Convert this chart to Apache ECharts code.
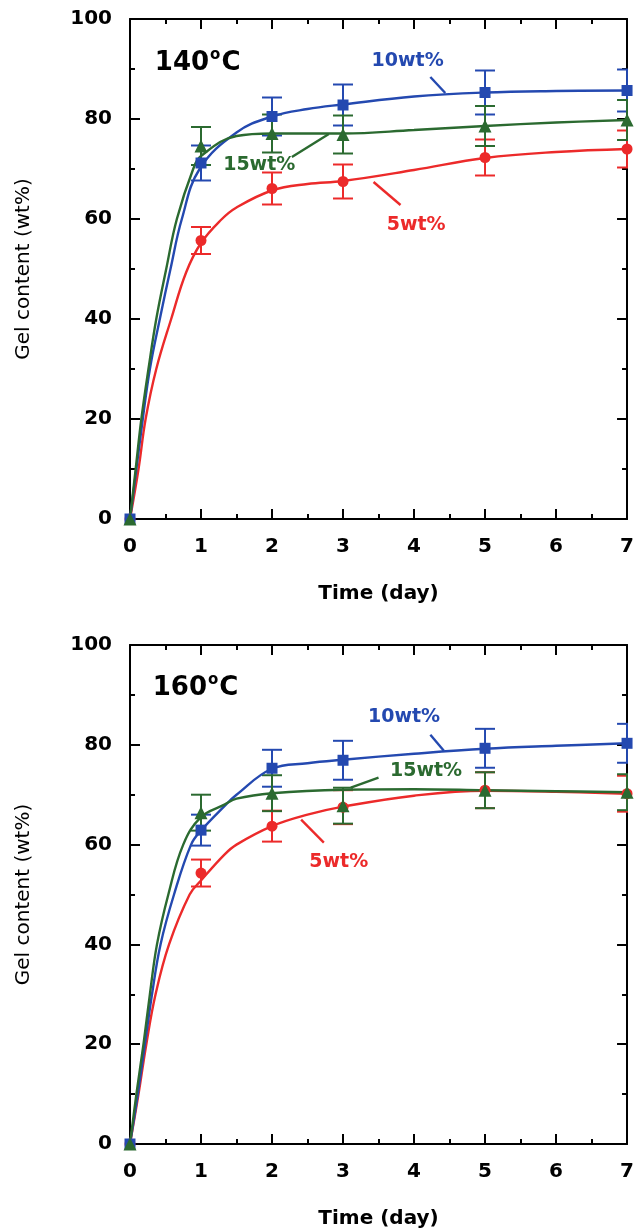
<!DOCTYPE html>
<html>
<head>
<meta charset="utf-8">
<script src="https://cdn.jsdelivr.net/npm/echarts@6/dist/echarts.min.js"></script>
<style>html,body{margin:0;padding:0;background:#fff}#c{width:637px;height:1230px}</style>
</head>
<body>
<div id="c"></div>
<script>
// ---------- data ----------
const days = [0, 1, 2, 3, 5, 7];
const xTicks = [0, 1, 2, 3, 4, 5, 6, 7];
const yTicks = [0, 20, 40, 60, 80, 100];

// 140 °C
const gel5_140  = [0, 55.7, 66.1, 67.5, 72.3, 74.0];
const err5_140  = [0, 2.7, 3.2, 3.4, 3.6, 3.7];
const gel10_140 = [0, 71.2, 80.5, 82.8, 85.3, 85.7];
const err10_140 = [0, 3.5, 3.8, 4.1, 4.4, 4.2];
const gel15_140 = [0, 74.6, 77.1, 76.9, 78.6, 79.8];
const err15_140 = [0, 3.8, 3.8, 3.8, 4.0, 4.0];

// 160 °C
const gel5_160  = [0, 54.3, 63.7, 67.5, 70.9, 70.2];
const err5_160  = [0, 2.7, 3.1, 3.4, 3.6, 3.6];
const gel10_160 = [0, 62.9, 75.3, 76.9, 79.3, 80.3];
const err10_160 = [0, 3.1, 3.7, 3.9, 3.9, 3.9];
const gel15_160 = [0, 66.4, 70.3, 67.8, 70.9, 70.5];
const err15_160 = [0, 3.6, 3.6, 3.6, 3.6, 3.6];

// fitted curves: [day, gel content]
const fit5_140  = [[0,0],[0.12,10],[0.22,20],[0.37,30],[0.58,40],[0.79,49.3],[1,55.2],[1.28,59.8],[1.5,62.3],[2,65.7],[2.5,67],[3,67.6],[4,69.8],[5,72.2],[6,73.4],[7,74]];
const fit10_140 = [[0,0],[0.09,10],[0.18,20],[0.28,30],[0.42,40],[0.57,50],[0.73,60],[0.98,70],[1.5,77.3],[2,80.5],[2.5,82],[3,82.9],[4,84.5],[5,85.3],[6,85.6],[7,85.7]];
const fit15_140 = [[0,0],[0.08,10],[0.16,20],[0.26,30],[0.37,40],[0.51,50],[0.66,60],[0.89,70],[1,72.6],[1.5,76.6],[2,77.1],[3,77.1],[4,77.8],[5,78.6],[6,79.3],[7,79.8]];
const fit5_160  = [[0,0],[0.12,10],[0.23,20],[0.36,30],[0.55,40],[0.84,50],[1,52.8],[1.33,58],[1.5,60],[2,63.7],[2.5,66],[3,67.6],[4,69.8],[5,70.8],[6,70.6],[7,70.2]];
const fit10_160 = [[0,0],[0.11,10],[0.21,20],[0.31,30],[0.43,40],[0.62,50],[0.86,60],[1,62.8],[1.33,67.7],[1.5,70],[2,75.2],[2.5,76.3],[3,77],[4,78.2],[5,79.2],[6,79.8],[7,80.3]];
const fit15_160 = [[0,0],[0.09,10],[0.19,20],[0.28,30],[0.38,40],[0.54,50],[0.75,60],[1,65.5],[1.33,68],[1.5,69.2],[2,70.3],[3,71],[4,71.1],[5,70.9],[6,70.7],[7,70.5]];

// annotation texts and their positions (data coordinates)
const panelTitles = ['140', '160'];
const seriesNames = ['5wt%', '10wt%', '15wt%'];
const titlePos  = [[0.35, 91.2], [0.32, 91.4]];
const labelPos140 = [[4.03, 58.8], [3.91, 91.6], [1.82, 70.8]];
const labelPos160 = [[2.94, 56.6], [3.86, 85.6], [4.17, 74.8]];
const leader140 = [[[3.43, 67.4], [3.81, 62.8]], [[4.23, 88.4], [4.44, 85.2]], [[2.28, 72.4], [2.80, 77.0]]];
const leader160 = [[[2.41, 65.0], [2.73, 60.4]], [[4.23, 82.0], [4.42, 78.8]], [[3.50, 73.4], [3.11, 71.4]]];

// ---------- style ----------
const colors = ['#ec2a2a', '#2449b0', '#2b6a30'];
const symbols = ['circle', 'rect', 'triangle'];
const FONT = 'DejaVu Sans';

function xAxes(gridIndex) {
  const common = {
    type: 'value', gridIndex, min: 0, max: 7, interval: 1,
    axisLine: { show: true, onZero: false, lineStyle: { color: '#000', width: 2 } },
    axisTick: { show: true, inside: true, length: 10, lineStyle: { color: '#000', width: 2 } },
    minorTick: { show: true, splitNumber: 2, length: 5, lineStyle: { color: '#000', width: 2 } },
    splitLine: { show: false }
  };
  return [
    Object.assign({}, common, {
      position: 'bottom',
      axisLabel: { show: true, margin: 18, fontFamily: FONT, fontWeight: 'bold', fontSize: 20, color: '#000',
                   formatter: v => xTicks.includes(v) ? String(v) : '' },
      name: 'Time (day)', nameLocation: 'middle', nameGap: 65,
      nameTextStyle: { fontFamily: FONT, fontWeight: 'bold', fontSize: 20, color: '#000' }
    }),
    Object.assign({}, common, { position: 'top', axisLabel: { show: false } })
  ];
}
function yAxes(gridIndex) {
  const common = {
    type: 'value', gridIndex, min: 0, max: 100, interval: 20,
    axisLine: { show: true, onZero: false, lineStyle: { color: '#000', width: 2 } },
    axisTick: { show: true, inside: true, length: 10, lineStyle: { color: '#000', width: 2 } },
    minorTick: { show: true, splitNumber: 2, length: 5, lineStyle: { color: '#000', width: 2 } },
    splitLine: { show: false }
  };
  return [
    Object.assign({}, common, {
      position: 'left',
      axisLabel: { show: true, margin: 18, fontFamily: FONT, fontWeight: 'bold', fontSize: 20, color: '#000',
                   formatter: v => yTicks.includes(v) ? String(v) : '' },
      name: 'Gel content (wt%)', nameLocation: 'middle', nameGap: 96, nameRotate: 90,
      nameTextStyle: { fontFamily: FONT, fontSize: 20, color: '#000' }
    }),
    Object.assign({}, common, { position: 'right', axisLabel: { show: false } })
  ];
}

function errorSeries(xi, yi, vals, errs, color) {
  return {
    type: 'custom', xAxisIndex: xi, yAxisIndex: yi, z: 3, clip: true,
    data: days.map((d, i) => [d, vals[i], errs[i]]),
    encode: { x: 0, y: 1 },
    renderItem: function (params, api) {
      const x = api.value(0), y = api.value(1), e = api.value(2);
      if (!e) return null;
      const top = api.coord([x, y + e]);
      const bot = api.coord([x, y - e]);
      const w = 10;
      const st = { stroke: color, lineWidth: 2 };
      return { type: 'group', children: [
        { type: 'line', shape: { x1: top[0], y1: top[1], x2: bot[0], y2: bot[1] }, style: st },
        { type: 'line', shape: { x1: top[0] - w, y1: top[1], x2: top[0] + w, y2: top[1] }, style: st },
        { type: 'line', shape: { x1: bot[0] - w, y1: bot[1], x2: bot[0] + w, y2: bot[1] }, style: st }
      ] };
    }
  };
}
function fitSeries(xi, yi, data, color) {
  return {
    type: 'line', xAxisIndex: xi, yAxisIndex: yi, z: 4, data,
    smooth: 0.4, showSymbol: false, silent: true,
    lineStyle: { color, width: 2.4 }
  };
}
function pointSeries(xi, yi, vals, color, symbol) {
  return {
    type: 'scatter', xAxisIndex: xi, yAxisIndex: yi, z: 5, clip: false,
    data: days.map((d, i) => [d, vals[i]]),
    symbol, symbolSize: symbol === 'triangle' ? 13 : 11,
    itemStyle: { color, opacity: 1 }
  };
}
function leaderSeries(xi, yi, seg, color) {
  return {
    type: 'line', xAxisIndex: xi, yAxisIndex: yi, z: 4, data: seg,
    showSymbol: false, silent: true, lineStyle: { color, width: 2.4 }
  };
}
function textSeries(xi, yi, pos, text, color, align) {
  return {
    type: 'scatter', xAxisIndex: xi, yAxisIndex: yi, z: 6, clip: false, silent: true,
    data: [pos], symbolSize: 0, itemStyle: { opacity: 1, color },
    label: { show: true, position: 'inside', align: align || 'center', verticalAlign: 'middle',
             formatter: text, fontFamily: FONT, fontWeight: 'bold', fontSize: 19, color, opacity: 1 }
  };
}
function titleSeries(xi, yi, pos, num) {
  return {
    type: 'scatter', xAxisIndex: xi, yAxisIndex: yi, z: 6, clip: false, silent: true,
    data: [pos], symbolSize: 0, itemStyle: { opacity: 1, color: '#000' },
    label: { show: true, position: 'inside', align: 'left', verticalAlign: 'middle', color: '#000', opacity: 1,
             formatter: '{n|' + num + '}{s|o}{n|C}',
             rich: {
               n: { fontFamily: FONT, fontWeight: 'bold', fontSize: 26, color: '#000', lineHeight: 30 },
               s: { fontFamily: FONT, fontWeight: 'bold', fontSize: 15, color: '#000', verticalAlign: 'top', lineHeight: 30, padding: [0, 1, 12, 1] }
             } }
  };
}

const panels = [
  { vals: [gel5_140, gel10_140, gel15_140], errs: [err5_140, err10_140, err15_140], fits: [fit5_140, fit10_140, fit15_140], lab: labelPos140, lead: leader140 },
  { vals: [gel5_160, gel10_160, gel15_160], errs: [err5_160, err10_160, err15_160], fits: [fit5_160, fit10_160, fit15_160], lab: labelPos160, lead: leader160 }
];

const series = [];
panels.forEach((p, g) => {
  const xi = g * 2, yi = g * 2;
  for (let k = 0; k < 3; k++) {
    series.push(errorSeries(xi, yi, p.vals[k], p.errs[k], colors[k]));
    series.push(fitSeries(xi, yi, p.fits[k], colors[k]));
    series.push(pointSeries(xi, yi, p.vals[k], colors[k], symbols[k]));
    series.push(leaderSeries(xi, yi, p.lead[k], colors[k]));
    series.push(textSeries(xi, yi, p.lab[k], seriesNames[k], colors[k]));
  }
  series.push(titleSeries(xi, yi, titlePos[g], panelTitles[g]));
});

const option = {
  backgroundColor: '#fff',
  animation: false,
  grid: [
    { left: 130, right: 7, top: 19, height: 500, containLabel: false },
    { left: 130, right: 7, top: 645, height: 500, containLabel: false }
  ],
  xAxis: [...xAxes(0), ...xAxes(1)],
  yAxis: [...yAxes(0), ...yAxes(1)],
  series
};

const chart = echarts.init(document.getElementById('c'), null, { renderer: 'canvas' });
chart.setOption(option);
</script>
</body>
</html>
